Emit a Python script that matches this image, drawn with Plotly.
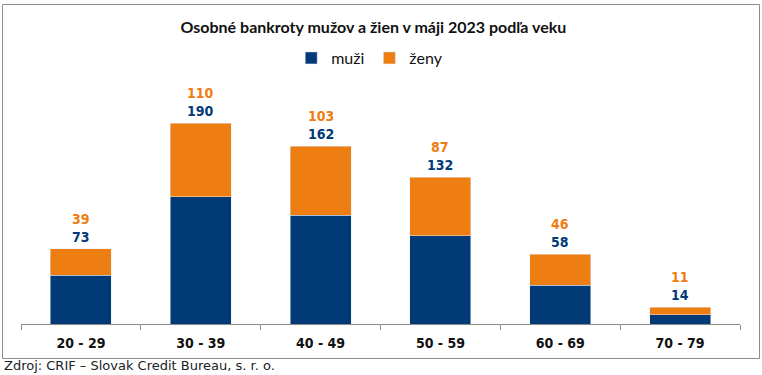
import plotly.graph_objects as go

categories = ["20 - 29", "30 - 39", "40 - 49", "50 - 59", "60 - 69", "70 - 79"]
muzi = [73, 190, 162, 132, 58, 14]
zeny = [39, 110, 103, 87, 46, 11]

BLUE = "#023a78"
ORANGE = "#ee7d12"
GRAY = "#8c8c8c"

W, H = 762, 375
ml, mr, mt, mb = 21, 22, 75, 51
plot_w = W - ml - mr
plot_h = H - mt - mb
px_per_unit = 0.67
ymax = plot_h / px_per_unit

fig = go.Figure()
fig.add_trace(go.Bar(name="muži", x=categories, y=muzi, marker_color=BLUE))
fig.add_trace(go.Bar(name="ženy", x=categories, y=zeny, marker_color=ORANGE))

label_font = "DejaVu Sans Condensed, DejaVu Sans, sans-serif"
for c, m, z in zip(categories, muzi, zeny):
    tot = m + z
    fig.add_annotation(x=c, y=tot, text=f"<b>{m}</b>", showarrow=False,
                       yanchor="middle", yshift=12,
                       font=dict(family=label_font, size=14, color=BLUE))
    fig.add_annotation(x=c, y=tot, text=f"<b>{z}</b>", showarrow=False,
                       yanchor="middle", yshift=30,
                       font=dict(family=label_font, size=14, color=ORANGE))

# outer frame
def px_to_paper_x(px):
    return (px - ml) / plot_w

def py_to_paper_y(py):
    return (H - mb - py) / plot_h

fig.add_shape(type="rect", xref="paper", yref="paper",
              x0=px_to_paper_x(2.5), x1=px_to_paper_x(759.5),
              y0=py_to_paper_y(358.5), y1=py_to_paper_y(4.5),
              line=dict(color=GRAY, width=1), fillcolor="rgba(0,0,0,0)", layer="below")

fig.add_annotation(xref="paper", yref="paper",
                   x=px_to_paper_x(2), y=py_to_paper_y(366),
                   xanchor="left", yanchor="middle", showarrow=False,
                   text="Zdroj: CRIF – Slovak Credit Bureau, s. r. o.",
                   font=dict(family="DejaVu Sans, sans-serif", size=13, color="#222222"))

fig.update_layout(
    width=W, height=H,
    margin=dict(l=ml, r=mr, t=mt, b=mb, pad=0),
    paper_bgcolor="white", plot_bgcolor="white",
    barmode="stack", bargap=0.49,
    title=dict(text="<b>Osobné bankroty mužov a žien v máji 2023 podľa veku</b>",
               x=0.49, xanchor="center", y=1 - 27 / H, yanchor="middle",
               font=dict(family="Lato, sans-serif", size=16, color="#111111")),
    legend=dict(orientation="h", x=0.485, xanchor="center",
                y=py_to_paper_y(58), yanchor="middle",
                font=dict(family="Lato, sans-serif", size=16, color="#111111"),
                itemwidth=30, traceorder="normal"),
    showlegend=True,
)
fig.update_xaxes(type="category", range=[-0.5, len(categories) - 0.5],
                 showline=True, linecolor=GRAY, linewidth=1,
                 ticks="outside", ticklen=5, tickcolor=GRAY, tickson="boundaries",
                 showgrid=False, ticklabelstandoff=6,
                 tickfont=dict(family=label_font, size=14, color="#111111", weight="bold"))
fig.update_yaxes(visible=False, range=[0, ymax], showgrid=False)

fig.write_html("out.html", config={"displayModeBar": False},
               post_script="document.body.style.margin='0';document.body.style.overflow='hidden';")
